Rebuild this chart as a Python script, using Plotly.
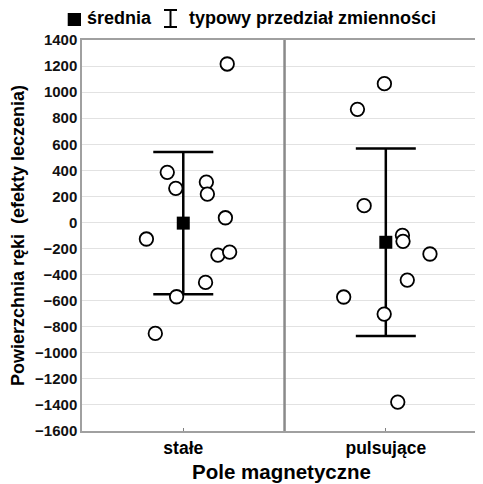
import plotly.graph_objects as go

# categories of magnetic field
categories = ['stałe', 'pulsujące']

# individual observations (hand surface, treatment effect)
stale_values = [1216, 385, 262, 310, 218, 36, -127, -250, -227, -460, -570, -851]
stale_jitter = [0.217, -0.079, -0.037, 0.114, 0.119, 0.208, -0.182, 0.171, 0.229, 0.110, -0.033, -0.138]

puls_values = [1065, 868, 129, -99, -145, -242, -442, -572, -703, -1378]
puls_jitter = [-0.007, -0.140, -0.107, 0.082, 0.085, 0.218, 0.106, -0.208, -0.008, 0.059]

# group means and typical range of variability (+/-)
means = [-5, -152]
spreads = [545, 720]

y_ticks = list(range(-1600, 1401, 200))

FONT = 'Liberation Sans, Arial, sans-serif'

fig = go.Figure()

# mean + error bar
fig.add_trace(go.Scatter(
    x=[0, 1],
    y=means,
    mode='markers',
    marker=dict(symbol='square', size=13, color='black'),
    error_y=dict(type='data', array=spreads, symmetric=True,
                 color='black', thickness=2.5, width=30),
    showlegend=False,
    hoverinfo='skip'
))

# jittered raw points
pts_x = [0 + j for j in stale_jitter] + [1 + j for j in puls_jitter]
pts_y = stale_values + puls_values
fig.add_trace(go.Scatter(
    x=pts_x,
    y=pts_y,
    mode='markers',
    marker=dict(symbol='circle', size=13.5, color='white',
                line=dict(color='black', width=1.8)),
    showlegend=False
))

# divider between groups
fig.add_shape(type='line', xref='x', yref='paper', x0=0.5, x1=0.5, y0=0, y1=1,
              line=dict(color='#8a8a8a', width=2.5))

# legend drawn by hand
fig.add_shape(type='rect', xref='paper', yref='paper',
              x0=-0.0358, x1=-0.0025, y0=1.0358, y1=1.0691,
              fillcolor='black', line=dict(width=0))
fig.add_annotation(xref='paper', yref='paper', x=0.008, y=1.055,
                   xanchor='left', yanchor='middle', showarrow=False,
                   text='średnia', font=dict(family=FONT, size=18, color='black', weight='bold'))
for y0, y1, x0, x1 in [(1.0332, 1.0767, 0.2218, 0.2218),
                       (1.0767, 1.0767, 0.2055, 0.2381),
                       (1.0332, 1.0332, 0.2055, 0.2381)]:
    fig.add_shape(type='line', xref='paper', yref='paper', x0=x0, x1=x1, y0=y0, y1=y1,
                  line=dict(color='black', width=2))
fig.add_annotation(xref='paper', yref='paper', x=0.262, y=1.055,
                   xanchor='left', yanchor='middle', showarrow=False,
                   text='typowy przedział zmienności',
                   font=dict(family=FONT, size=18, color='black', weight='bold'))

# page body adds ~8px offset, so the figure is sized to fit the window
fig.update_layout(
    width=475, height=476,
    margin=dict(l=74, r=2, t=32, b=53, autoexpand=False),
    paper_bgcolor='white',
    plot_bgcolor='white',
    font=dict(family=FONT, color='black'),
    showlegend=False,
)

fig.update_xaxes(
    range=[-0.5, 1.47],
    tickvals=[0, 1],
    ticktext=categories,
    tickfont=dict(family=FONT, size=17.5, color='black', weight='bold'),
    ticks='inside', ticklen=3, tickcolor='#808080',
    showgrid=False, zeroline=False, automargin=False,
    showline=True, linecolor='#a0a0a0', linewidth=1.5, mirror=True,
    title=dict(text='Pole magnetyczne', standoff=8,
               font=dict(family=FONT, size=20.5, color='black', weight='bold')),
)

fig.update_yaxes(
    range=[-1600, 1400],
    tickvals=y_ticks,
    tickfont=dict(family=FONT, size=15, color='#111', weight='bold'),
    ticks='', showgrid=True, gridcolor='#e2e2e2', gridwidth=1,
    zeroline=False, automargin=False,
    showline=True, linecolor='#a0a0a0', linewidth=1.5,
    title=dict(text='Powierzchnia ręki  (efekty leczenia)', standoff=7,
               font=dict(family=FONT, size=18, color='black', weight='bold')),
)

fig.write_html("out.html")
